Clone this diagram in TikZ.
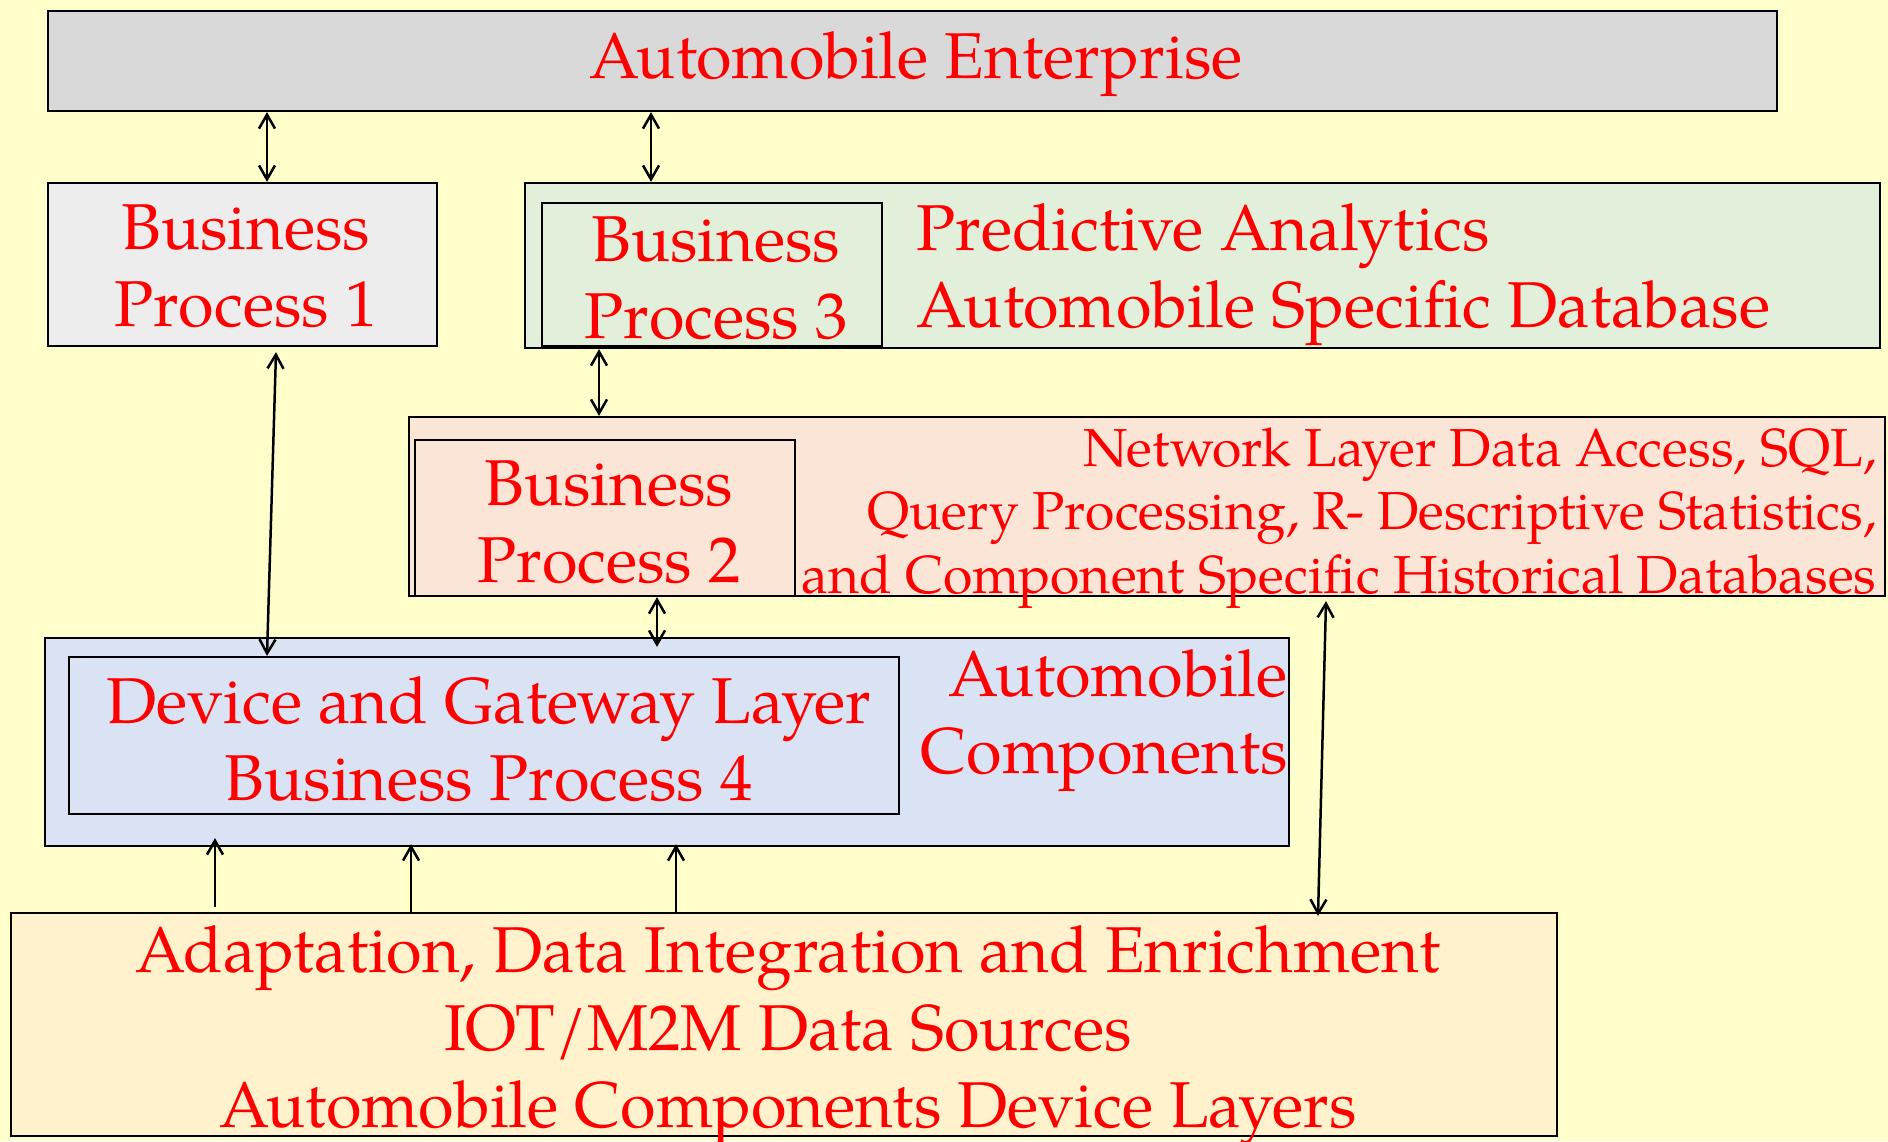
\documentclass[tikz,border=0pt]{standalone}
\usepackage{fontspec}
\setmainfont{TeX Gyre Pagella}
\usetikzlibrary{fit,arrows.meta}
\definecolor{bgyellow}{HTML}{FFFFCC}
\definecolor{entgray}{HTML}{D9D9D9}
\definecolor{bpgray}{HTML}{EDEDED}
\definecolor{predgreen}{HTML}{E2EFDA}
\definecolor{netpeach}{HTML}{FBE5D6}
\definecolor{compblue}{HTML}{DAE3F3}
\definecolor{srccream}{HTML}{FFF2CC}
\begin{document}
\begin{tikzpicture}[x=0.5pt,y=-0.5pt,
  box/.style={draw=black, line width=1.1pt, inner sep=0pt},
  lbl/.style={text=red, inner sep=0pt, align=center,
    font=\fontsize{32.4}{38.6}\selectfont},
  smalllbl/.style={font=\fontsize{26.75}{31.6}\selectfont},
  link/.style={draw=black, line width=1.25pt},
  tip/.tip={Straight Barb[length=7pt,width=8pt,line width=1.25pt]},
  both/.style={link, tip-tip},
  up/.style={link, -tip}]

% canvas
\fill[bgyellow] (0,0) rectangle (1888,1141);
\useasboundingbox (0,0) rectangle (1888,1141);

% outer boxes
\node[box, fill=entgray,   fit={(48,11)(1777,111)}]   (ent)  {};
\node[box, fill=bpgray,    fit={(48,183)(437,346)}]   (bp1)  {};
\node[box, fill=predgreen, fit={(525,183)(1880,348)}] (pred) {};
\node[box, fill=netpeach,  fit={(409,417)(1885,596)}] (net)  {};
\node[box, fill=compblue,  fit={(45,638)(1289,846)}]  (comp) {};
\node[box, fill=srccream,  fit={(11,913)(1557,1136)}] (src)  {};

% inner boxes
\node[box, fill=predgreen, fit={(542,203)(882,346)}]  (bp3) {};
\node[box, fill=netpeach,  fit={(415,440)(795,596)}]  (bp2) {};
\node[box, fill=compblue,  fit={(69,657)(899,814)}]   (dev) {};

% labels
\node[lbl, anchor=base] (entT) at (916,78) {Automobile Enterprise};
\node[lbl] (bp1T) at (246,266.5) {Business\\Process 1};
\node[lbl] (bp3T) at (716,278.5) {Business\\Process 3};
\node[lbl, anchor=west, align=left] (predT) at (916,274.3)
  {Predictive Analytics\\Automobile Specific Database};
\node[lbl, smalllbl, anchor=east, align=right] (netT) at (1877,517.9)
  {Network Layer Data Access, SQL,\\Query Processing, R- Descriptive Statistics,\\and Component Specific Historical Databases};
\node[lbl] (bp2T) at (609,522.5) {Business\\Process 2};
\node[lbl] (devT) at (489,739.2) {Device and Gateway Layer\\Business Process 4};
\node[lbl, anchor=east, align=right] (compT) at (1288,720.3) {Automobile\\Components};
\node[lbl] (srcT) at (788,1035.8)
  {Adaptation, Data Integration and Enrichment\\IOT/M2M Data Sources\\Automobile Components Device Layers};

% connector columns
\coordinate (c1) at (267,0);
\coordinate (c2) at (651,0);
\coordinate (c3) at (599,0);
\coordinate (c4a) at (276,0);
\coordinate (c4b) at (267,0);
\coordinate (c5) at (657,0);
\coordinate (c6a) at (1326,0);
\coordinate (c6b) at (1318,0);
\coordinate (c7) at (215,0);
\coordinate (c8) at (411,0);
\coordinate (c9) at (676,0);

% connectors
\draw[both] (ent.south -| c1) -- (bp1.north -| c1);
\draw[both] (ent.south -| c2) -- (pred.north -| c2);
\draw[both] (pred.south -| c3) -- (net.north -| c3);
\draw[both] ([yshift=-2.5pt]bp1.south -| c4a) -- (dev.north -| c4b);
\draw[both] (net.south -| c5) -- ([yshift=-5pt]comp.north -| c5);
\draw[both] ([yshift=-2pt]net.south -| c6a) -- ([yshift=-2pt]src.north -| c6b);
\draw[up] ([yshift=2.5pt]src.north -| c7) -- ([yshift=4.5pt]comp.south -| c7);
\draw[up] (src.north -| c8) -- ([yshift=1.5pt]comp.south -| c8);
\draw[up] (src.north -| c9) -- ([yshift=1.5pt]comp.south -| c9);
\end{tikzpicture}
\end{document}
